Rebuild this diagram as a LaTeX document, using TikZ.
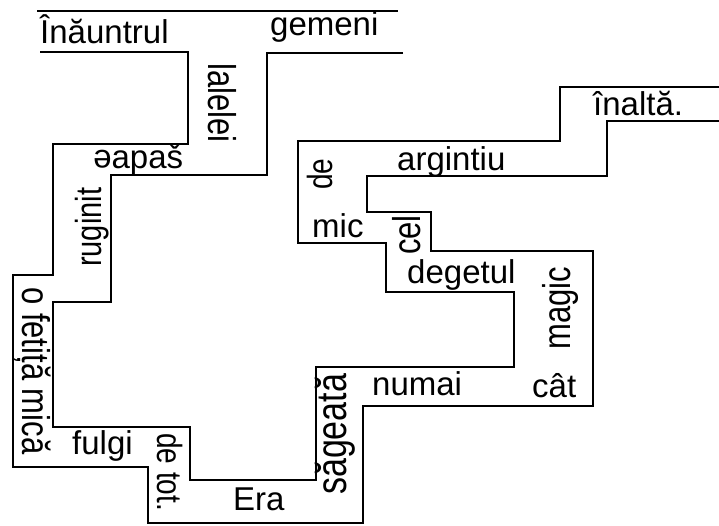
\documentclass[tikz,border=0pt]{standalone}
\usepackage{fontspec}
\setmainfont{Liberation Sans}
\newcommand\stretchv[1]{\scalebox{1}[1.25]{#1}}
\begin{document}
\begin{tikzpicture}[x=1pt,y=-1pt,
  ln/.style={line width=1.5pt, line join=miter},
  ht/.style={inner sep=0pt, anchor=base west, font=\fontsize{33}{36}\selectfont},
  vd/.style={inner sep=0pt, anchor=base west, rotate=-90, font=\fontsize{31}{34}\selectfont},
  vu/.style={inner sep=0pt, anchor=base west, rotate=90, font=\fontsize{31}{34}\selectfont}]
\useasboundingbox (0,0) rectangle (719,525);
% lines
\draw[ln] (37,11) -- (398,11);
\draw[ln] (40,52) -- (188,52) -- (188,144) -- (53,144) -- (53,275) -- (13,275)
  -- (13,467) -- (148,467) -- (148,523) -- (363,523) -- (363,406) -- (593,406)
  -- (593,251) -- (431,251) -- (431,212) -- (367,212) -- (367,176) -- (607,176)
  -- (607,121) -- (719,121);
\draw[ln] (403,53) -- (267,53) -- (267,175) -- (111,175) -- (111,302) -- (53,302)
  -- (53,427) -- (190,427) -- (190,480) -- (316,480) -- (316,367) -- (514,367)
  -- (514,292) -- (386,292) -- (386,243) -- (298,243) -- (298,141) -- (560,141)
  -- (560,87) -- (719,87);
% horizontal texts
\node[ht] (t1) at (40,43) {Înăuntrul};
\node[ht] (t2) at (270,35) {gemeni};
\node[ht] (t3) at (93,168) {\rotatebox[origin=c]{180}{e}apaš};
\node[ht] (t4) at (397,170) {argintiu};
\node[ht] (t5) at (593,115) {înaltă.};
\node[ht] (t6) at (312,237) {mic};
\node[ht] (t7) at (407,283) {degetul};
\node[ht] (t8) at (372,395) {numai};
\node[ht] (t9) at (532,397) {cât};
\node[ht] (t10) at (72,454) {fulgi};
\node[ht] (t11) at (233,510) {Era};
% vertical texts, reading downwards
\node[vd] (v1) at (208,63) {\stretchv{lalelei}};
\node[vd] (v2) at (22,287) {\stretchv{o fetiță mică}};
\node[vd, font=\fontsize{28}{30}\selectfont] (v3) at (157,433) {\stretchv{de tot.}};
% vertical texts, reading upwards
\node[vu, font=\fontsize{29}{32}\selectfont] (v4) at (101,267) {\stretchv{ruginit}};
\node[vu, font=\fontsize{34}{36}\selectfont] (v5) at (346,495) {\stretchv{săgeată}};
\node[vu] (v6) at (570,350) {\stretchv{magic}};
\node[vu] (v7) at (420,255) {\stretchv{cel}};
\node[vu, font=\fontsize{28}{30}\selectfont] (v8) at (332,190) {\stretchv{de}};
\end{tikzpicture}
\end{document}
